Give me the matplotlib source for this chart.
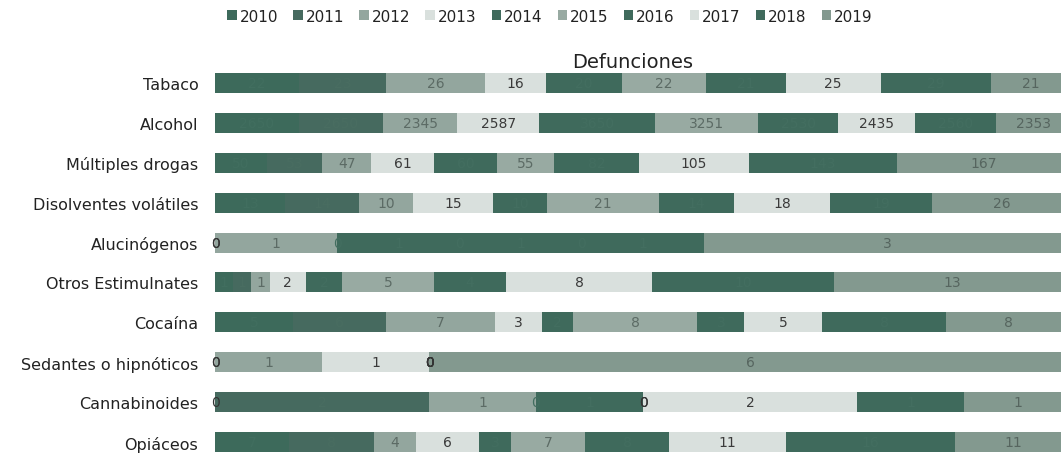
import numpy as np
import matplotlib
matplotlib.use('Agg')
import matplotlib.pyplot as plt

# categorias (de arriba a abajo)
categorias = ["Tabaco", "Alcohol", "Múltiples drogas", "Disolventes volátiles",
              "Alucinógenos", "Otros Estimulnates", "Cocaína",
              "Sedantes o hipnóticos", "Cannabinoides", "Opiáceos"]
anios = ["2010", "2011", "2012", "2013", "2014", "2015", "2016", "2017", "2018", "2019"]

# defunciones por año, en el orden de las categorias
d2010 = [22, 2650, 50, 13, 0, 1, 5, 0, 0, 7]
d2011 = [23, 2650, 53, 14, 0, 1, 6, 0, 2, 8]
d2012 = [26, 2345, 47, 10, 1, 1, 7, 1, 1, 4]
d2013 = [16, 2587, 61, 15, 0, 2, 3, 1, 0, 6]
d2014 = [20, 3650, 60, 10, 1, 2, 2, 0, 1, 3]
d2015 = [22, 3251, 55, 21, 0, 5, 8, 0, 0, 7]
d2016 = [21, 2530, 82, 14, 1, 4, 3, 0, 0, 8]
d2017 = [25, 2435, 105, 18, 0, 8, 5, 0, 2, 11]
d2018 = [29, 2560, 143, 19, 1, 10, 8, 0, 1, 16]
d2019 = [21, 2353, 167, 26, 3, 13, 8, 6, 1, 11]

series = [d2010, d2011, d2012, d2013, d2014, d2015, d2016, d2017, d2018, d2019]

oscuro = '#3f6a5c'
medio = '#93a69e'
claro = '#d9e0dd'
colores = ['#3d6a5b', '#466a5f', medio, claro, oscuro, '#98aaa2',
           oscuro, claro, oscuro, '#83998f']
es_oscuro = [True, True, False, False, True, False, True, False, True, False]
# color de las etiquetas (en las barras oscuras casi no se ven)
col_etiq = ['#416e5f', '#496d61', '#5c6b65', '#3a3a3a', '#436e60', '#5c6b65',
            '#436e60', '#3a3a3a', '#436e60', '#56655f']

datos = np.array(series, dtype=float)
totales = datos.sum(axis=0)
partes = datos / totales

fig = plt.figure(figsize=(10.61, 4.56), dpi=100)
ax = fig.add_axes([215 / 1061, 1 - 455 / 456, 856 / 1061, 391 / 456])

y = np.arange(len(categorias))
izq = np.zeros(len(categorias))
for i, anio in enumerate(anios):
    ax.barh(y, partes[i], left=izq, height=0.5, color=colores[i],
            label=anio, linewidth=0)
    for j, v in enumerate(datos[i]):
        if v == 0:
            # siguiente tramo con valor en la misma barra
            sig = [k for k in range(i + 1, len(anios)) if datos[k][j] > 0]
            oculto = izq[j] > 0 and sig and es_oscuro[sig[0]]
            c = '#436e60' if oculto else '#333333'
        else:
            c = col_etiq[i]
        ax.text(izq[j] + partes[i][j] / 2, y[j], str(int(v)), ha='center', va='center',
                fontsize=10, color=c, clip_on=False)
    izq += partes[i]

ax.set_xlim(0, 1)
ax.set_ylim(9.3, -0.5)
ax.set_yticks(y)
ax.set_yticklabels(categorias, fontsize=11.5, color='#222222')
ax.tick_params(axis='y', length=0, pad=12)
ax.set_xticks([])
for s in ax.spines.values():
    s.set_visible(False)

fig.text(633 / 1061, 1 - 62 / 456, "Defunciones", ha='center', va='center',
         fontsize=14, color='#222222')

fig.legend(loc='center', bbox_to_anchor=(550 / 1061, 1 - 17 / 456), ncol=10,
           frameon=False, fontsize=11, handlelength=0.6, handleheight=0.6,
           handletextpad=0.2, columnspacing=1.0, labelcolor='#222222')

fig.savefig('out.png', dpi=100)
